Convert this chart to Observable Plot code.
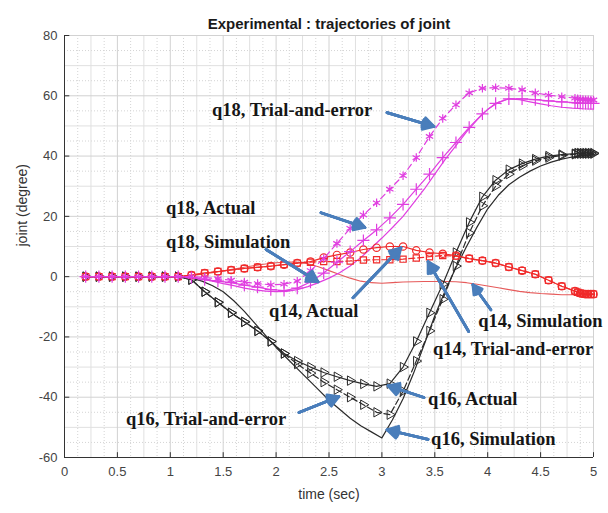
<!DOCTYPE html>
<html>
<head>
<meta charset="utf-8">
<script src="https://cdn.jsdelivr.net/npm/d3@7"></script>
<script src="https://cdn.jsdelivr.net/npm/@observablehq/plot@0.6"></script>
<style>
  html, body { margin: 0; padding: 0; background: #fff; }
</style>
</head>
<body>
<script>
// ---- time bases (sec) ----
const tMark = [0.2, 0.325, 0.45, 0.575, 0.7, 0.825, 0.95, 1.075, 1.2, 1.325, 1.45, 1.575, 1.7, 1.825, 1.95, 2.075, 2.2, 2.325, 2.45, 2.575, 2.7, 2.825, 2.95, 3.075, 3.2, 3.325, 3.45, 3.575, 3.7, 3.825, 3.95, 4.075, 4.2, 4.325, 4.45, 4.575, 4.7, 4.825, 4.85, 4.875, 4.9, 4.925, 4.95, 4.975, 5.0];
const tSim = [0.2, 1.0, 1.1, 1.2, 1.3, 1.4, 1.5, 1.6, 1.7, 1.8, 1.9, 2.0, 2.1, 2.2, 2.3, 2.4, 2.5, 2.6, 2.7, 2.8, 2.9, 3.0, 3.1, 3.2, 3.3, 3.4, 3.5, 3.6, 3.7, 3.8, 3.9, 4.0, 4.1, 4.2, 4.3, 4.4, 4.5, 4.6, 4.7, 4.8, 4.9, 5.0];

// ---- joint angles (degree) ----
const q16Sim = [0, 0, 0, -0.5, -1.5, -3, -5, -8, -11.5, -15.5, -19.5, -23.5, -27, -30.5, -34, -37.5, -41, -44, -47, -49.5, -51.5, -53.5, -47.5, -40.5, -32, -22.5, -13, -4.5, 3, 10, 16.5, 22.5, 27, 30.5, 33, 35, 36.7, 38, 39, 39.7, 40.2, 40.5];
const q18Sim = [0, 0, 0, -0.3, -0.8, -1.5, -2.3, -3, -3.8, -4.4, -4.8, -5, -4.9, -4.3, -3.3, -2, -0.5, 1.3, 3.5, 6.3, 9.5, 12.8, 16.3, 20, 24.5, 29, 34, 39, 43.5, 48, 52, 55.5, 57.8, 59, 58.7, 58, 57.3, 56.7, 56.2, 55.9, 55.7, 55.6];
const q14Sim = [0, 0, 0, 0.3, 0.8, 1.3, 1.9, 2.5, 3.1, 3.7, 4.2, 4.6, 4.8, 4.8, 4.3, 3.3, 2, 0.7, -0.5, -1.5, -2, -2.2, -2, -1.8, -1.7, -1.6, -1.6, -1.6, -1.7, -2, -2.5, -3.1, -3.7, -4.3, -4.9, -5.3, -5.6, -5.8, -6, -6, -6, -6];

const q16Actual = [0, 0, 0, 0, 0, 0, 0, 0, -1, -5, -8.5, -12, -15, -18, -21.5, -25.5, -28, -30, -31.8, -33.2, -34.5, -35.6, -36.4, -35.5, -30, -21.5, -12, -2.5, 8, 18, 26.5, 32, 35.5, 37.5, 39, 40, 40.5, 40.8, 41, 41, 41, 41, 41, 41, 41];
const q16Trial = [0, 0, 0, 0, 0, 0, 0, 0, -1, -5, -8.5, -12, -15, -18, -21.5, -25.5, -29, -32, -35, -37.5, -40, -42.5, -45, -45.8, -38, -28, -18, -7.5, 3.5, 14.5, 23.5, 30, 34, 36.8, 38.5, 39.5, 40.2, 40.6, 40.8, 40.8, 40.8, 40.8, 40.8, 40.8, 40.8];
const q18Actual = [0, 0, 0, 0, 0, 0, 0, 0, -0.3, -1, -1.5, -2, -2.8, -3.5, -4.3, -4.6, -3.8, -1.8, 1.2, 4.8, 8.3, 12, 15.5, 19.5, 24, 29, 34, 39.5, 44.5, 49.5, 54, 57.5, 59, 59, 58.7, 58.3, 58, 57.7, 57.6, 57.5, 57.5, 57.5, 57.5, 57.5, 57.5];
const q18Trial = [0, 0, 0, 0, 0, 0, 0, 0, 0, -0.3, -0.7, -1.2, -1.8, -2.3, -2.7, -2.5, -1.5, 2, 6, 11, 16, 20.5, 24.5, 29, 33.5, 39.5, 46.5, 52.5, 57, 61, 62.5, 62.7, 62.5, 62, 61, 60.2, 59.7, 59.2, 59, 58.9, 58.8, 58.7, 58.7, 58.6, 58.6];
const q14Actual = [0, 0, 0, 0, 0, 0, 0, 0, 0.5, 1.2, 1.7, 2.2, 2.7, 3.1, 3.5, 4, 4.5, 5, 6.3, 7.2, 8, 9, 9.6, 10, 10, 8.7, 8, 7.6, 7, 6, 5.3, 4.5, 3.2, 2, 0.8, -1.2, -3.2, -4.8, -5.2, -5.5, -5.7, -5.8, -5.8, -5.8, -5.8];
const q14Trial = [0, 0, 0, 0, 0, 0, 0, 0, 0.5, 1.2, 1.7, 2.2, 2.7, 3.1, 3.5, 4, 4.5, 4.8, 5, 5, 5.2, 5.5, 5.6, 5.6, 5.8, 6.2, 6.6, 7, 6.8, 6, 5.3, 4.5, 3.2, 2, 0.8, -1.2, -3.2, -4.8, -5.2, -5.5, -5.7, -5.8, -5.8, -5.8, -5.8];

// ---- ticks ----
const xTicks = [0, 0.5, 1, 1.5, 2, 2.5, 3, 3.5, 4, 4.5, 5];
const yTicks = [-60, -40, -20, 0, 20, 40, 60, 80];

// ---- annotations ----
const annotations = [
  {label: "q18, Trial-and-error", x: 1.394, y: 55.1},
  {label: "q18, Actual", x: 0.959, y: 22.9},
  {label: "q18, Simulation", x: 0.959, y: 11.6},
  {label: "q14, Actual", x: 1.933, y: -11.3},
  {label: "q14, Simulation", x: 3.91, y: -14.6},
  {label: "q14, Trial-and-error", x: 3.483, y: -23.9},
  {label: "q16, Actual", x: 3.436, y: -40.5},
  {label: "q16, Simulation", x: 3.465, y: -54},
  {label: "q16, Trial-and-error", x: 0.581, y: -47.4}
];
const pointers = [
  {x1: 3.048, y1: 54.4, x2: 3.492, y2: 49.8},
  {x1: 2.424, y1: 21.2, x2: 2.84, y2: 16.3},
  {x1: 1.905, y1: 9.0, x2: 2.396, y2: -1.7},
  {x1: 2.727, y1: -7.0, x2: 3.18, y2: 9.6},
  {x1: 4.03, y1: -11, x2: 3.86, y2: -2.7},
  {x1: 3.82, y1: -18.2, x2: 3.436, y2: 5},
  {x1: 3.398, y1: -40.1, x2: 3.058, y2: -36.2},
  {x1: 3.436, y1: -54, x2: 3.048, y2: -50.8},
  {x1: 2.216, y1: -45.1, x2: 2.594, y2: -39.8}
];

// ---- build rows ----
const rows = (ts, vs) => ts.map((t, i) => ({t, v: vs[i]}));
const S = {
  q16Sim: rows(tSim, q16Sim), q18Sim: rows(tSim, q18Sim), q14Sim: rows(tSim, q14Sim),
  q16Actual: rows(tMark, q16Actual), q16Trial: rows(tMark, q16Trial),
  q18Actual: rows(tMark, q18Actual), q18Trial: rows(tMark, q18Trial),
  q14Actual: rows(tMark, q14Actual), q14Trial: rows(tMark, q14Trial)
};

const MAG = "#e03ee0", BLK = "#2a2a2a", RED = "#f02a2a", BLUE = "#4a7ebb";
const gridFine = d3.range(0.125, 5, 0.25);
const gridMidX = d3.range(0.25, 5, 0.5);
const gridFineY = d3.range(-55, 80, 10);
const gridMidY = d3.range(-50, 80, 20);

const lineOpts = (stroke, extra = {}) => ({x: "t", y: "v", stroke, strokeWidth: 1.2, ...extra});

const arrowLayers = [60, 42, 26, 12].map(a =>
  Plot.arrow(pointers, {x1: "x1", y1: "y1", x2: "x2", y2: "y2", stroke: BLUE, strokeWidth: 2.7, headAngle: a, headLength: 6.8})
);

const chart = Plot.plot({
  width: 608,
  height: 513,
  marginLeft: 64,
  marginRight: 15,
  marginTop: 35,
  marginBottom: 56,
  style: {fontFamily: "Liberation Sans, Arial, sans-serif", fontSize: "13px", background: "#fff"},
  x: {domain: [0, 5]},
  y: {domain: [-60, 80]},
  marks: [
    // grid
    Plot.ruleX(gridFine, {stroke: "#d4d4d4", strokeDasharray: "1,2"}),
    Plot.ruleY(gridFineY, {stroke: "#d4d4d4", strokeDasharray: "1,2"}),
    Plot.ruleX(gridMidX, {stroke: "#e0e0e0"}),
    Plot.ruleY(gridMidY, {stroke: "#e0e0e0"}),
    Plot.ruleX(xTicks.slice(1), {stroke: "#d2d2d2"}),
    Plot.ruleY(yTicks.slice(1), {stroke: "#d2d2d2"}),
    // axes frame + inward ticks
    Plot.ruleX([0], {stroke: "#333"}),
    Plot.ruleY([-60], {stroke: "#333"}),
    Plot.ruleX(xTicks, {y1: -60, y2: -58.4, stroke: "#333"}),
    Plot.ruleY(yTicks, {x1: 0, x2: 0.05, stroke: "#333"}),
    Plot.axisX({ticks: xTicks, tickSize: 0, tickPadding: 9, tickFormat: d => String(d), color: "#444", label: null, fontSize: 13}),
    Plot.axisY({ticks: yTicks, tickSize: 0, tickPadding: 7, tickFormat: d => String(d), color: "#444", label: null, fontSize: 13}),
    // simulation lines
    Plot.line(S.q14Sim, lineOpts("#e65a5a", {strokeWidth: 1.1})),
    Plot.line(S.q16Sim, lineOpts(BLK, {strokeWidth: 1.2})),
    Plot.line(S.q18Sim, lineOpts(MAG, {strokeWidth: 1.2})),
    // actual / trial lines + markers
    Plot.line(S.q16Actual, lineOpts(BLK)),
    Plot.dot(S.q16Actual, {x: "t", y: "v", symbol: "triangle2", rotate: 90, r: 4.5, stroke: BLK, fill: "none", strokeWidth: 1}),
    Plot.line(S.q16Trial, lineOpts(BLK, {strokeDasharray: "6,3"})),
    Plot.dot(S.q16Trial, {x: "t", y: "v", symbol: "triangle2", rotate: 90, r: 4.5, stroke: BLK, fill: "none", strokeWidth: 1}),
    Plot.line(S.q14Actual, lineOpts(RED)),
    Plot.dot(S.q14Actual, {x: "t", y: "v", symbol: "circle", r: 3.7, stroke: RED, fill: "none", strokeWidth: 1.2}),
    Plot.line(S.q14Trial, lineOpts(RED, {strokeDasharray: "6,3"})),
    Plot.dot(S.q14Trial, {x: "t", y: "v", symbol: "square", r: 3.5, stroke: RED, fill: "none", strokeWidth: 1.2}),
    Plot.line(S.q18Actual, lineOpts(MAG)),
    Plot.dot(S.q18Actual, {x: "t", y: "v", symbol: "plus", r: 4, stroke: MAG, strokeWidth: 1.2}),
    Plot.line(S.q18Trial, lineOpts(MAG, {strokeDasharray: "6,4"})),
    Plot.dot(S.q18Trial, {x: "t", y: "v", symbol: "asterisk", r: 4, stroke: MAG, strokeWidth: 1.2}),
    // pointers and annotation labels
    ...arrowLayers,
    Plot.text(annotations, {x: "x", y: "y", text: "label", textAnchor: "start", fontFamily: "Liberation Serif, Times New Roman, serif", fontWeight: "bold", fontSize: 18.5, fill: "#161616"}),
    // titles
    Plot.text(["Experimental : trajectories of joint"], {text: d => d, frameAnchor: "top", dy: -17, fontWeight: "bold", fontSize: 15, fill: "#1a1a1a"}),
    Plot.text(["time (sec)"], {text: d => d, frameAnchor: "bottom", dy: 41, fontSize: 14, fill: "#333"}),
    Plot.text(["joint (degree)"], {text: d => d, frameAnchor: "left", dx: -42, rotate: -90, fontSize: 14, fill: "#333"})
  ]
});
document.body.appendChild(chart);
</script>
</body>
</html>
